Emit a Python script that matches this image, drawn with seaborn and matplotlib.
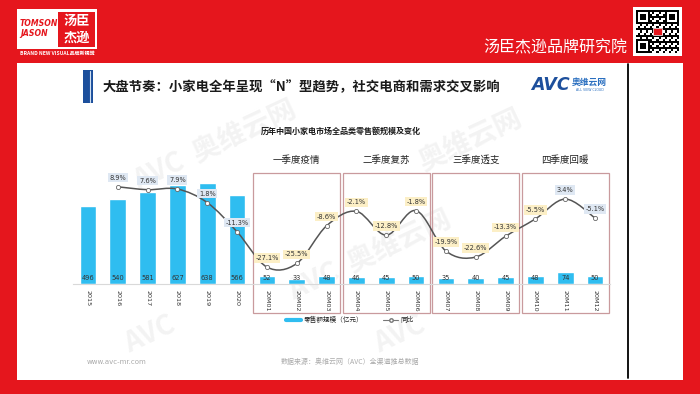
import matplotlib.pyplot as plt
import matplotlib.transforms as mtransforms
import numpy as np
import pandas as pd
import seaborn as sns
from matplotlib.lines import Line2D
from matplotlib.patches import PathPatch, Rectangle
from matplotlib.path import Path

# 数据：年度 + 2020 年各月
periods = ["2015", "2016", "2017", "2018", "2019", "2020",
           "20M01", "20M02", "20M03", "20M04", "20M05", "20M06",
           "20M07", "20M08", "20M09", "20M10", "20M11", "20M12"]
sales = [496, 540, 581, 627, 638, 566, 52, 33, 48, 46, 45, 50, 35, 40, 45, 48, 74, 50]
yoy = [np.nan, 8.9, 7.6, 7.9, 1.8, -11.3, -27.1, -25.5, -8.6, -2.1, -12.8, -1.8,
       -19.9, -22.6, -13.3, -5.5, 3.4, -5.1]
quarters = ["一季度疫情", "二季度复苏", "三季度透支", "四季度回暖"]

W, H = 700, 394
RED = "#e5161d"
BAR = "#2fbdf0"
CJK = ["Noto Sans CJK SC", "DejaVu Sans"]


def fx(x):
    return x / W


def fy(y):
    return 1 - y / H


def box(x0, y0, x1, y1, color, z=0.2):
    # 像素坐标 (左上, 右下) 画实心矩形
    fig.patches.append(Rectangle((fx(x0), fy(y1)), fx(x1 - x0), (y1 - y0) / H,
                                 transform=fig.transFigure, facecolor=color,
                                 edgecolor="none", zorder=z))


sns.set_style("white")
plt.rcParams["font.family"] = CJK

fig = plt.figure(figsize=(7, 3.94), dpi=100)
fig.patch.set_facecolor(RED)

# 白色内容区
box(17, 63, 683, 380, "white", z=0.1)
fig.add_artist(Line2D([fx(628), fx(628)], [fy(64), fy(378)], color="black", lw=1.3, zorder=5))

# 左上角标志
box(17, 9, 97, 49, "white")
box(58, 12, 95, 47, RED, z=0.3)
fig.text(fx(20), fy(24), "TOMSON", color=RED, fontsize=5.6, fontweight="bold", style="italic",
         va="center", family="DejaVu Sans")
fig.text(fx(20), fy(33), "JASON", color=RED, fontsize=5.6, fontweight="bold", style="italic",
         va="center", family="DejaVu Sans")
fig.text(fx(76.5), fy(21), "汤臣", color="white", fontsize=9.5, fontweight="bold", ha="center", va="center")
fig.text(fx(76.5), fy(38), "杰逊", color="white", fontsize=9.5, fontweight="bold", ha="center", va="center")
fig.text(fx(57), fy(53.5), "BRAND NEW VISUAL品牌新视觉", color="white", fontsize=3.6,
         fontweight="bold", style="italic", ha="center", va="center")

# 右上角
fig.text(fx(627), fy(48), "汤臣杰逊品牌研究院", color="white", fontsize=11.5, ha="right", va="center")
box(633, 7, 682, 56, "white")
n = 21
qr = np.zeros((n, n))
ii, jj = np.meshgrid(np.arange(n), np.arange(n), indexing="ij")
qr[((ii * ii + 3 * jj + ii * jj) % 3) == 0] = 1
for r0, c0 in [(0, 0), (0, n - 7), (n - 7, 0)]:
    qr[r0:r0 + 7, c0:c0 + 7] = 1
    qr[r0 + 1:r0 + 6, c0 + 1:c0 + 6] = 0
    qr[r0 + 2:r0 + 5, c0 + 2:c0 + 5] = 1
qax = fig.add_axes([fx(636), fy(53), fx(43), 43 / H])
qax.set_zorder(3)
qax.imshow(qr, cmap="gray_r", interpolation="nearest")
qax.add_patch(Rectangle((8, 8.5), 4, 3, facecolor=RED, edgecolor="white", lw=0.5))
qax.axis("off")

# 标题
box(83, 70, 93, 103, "#1c4f9c")
fig.add_artist(Line2D([fx(89.5), fx(89.5)], [fy(71), fy(102)], color="#cfe0f2", lw=0.8))
fig.text(fx(103), fy(87), "大盘节奏：小家电全年呈现“N”型趋势，社交电商和需求交叉影响",
         fontsize=9.6, fontweight="bold", color="#1a1a1a", va="center")
fig.text(fx(531), fy(85), "AVC", fontsize=12.5, fontweight="bold", style="italic", color="#1d4f9c",
         va="center", family="DejaVu Sans")
fig.text(fx(572), fy(82), "奥维云网", fontsize=6.3, fontweight="bold", color="#2a6fc0", va="center")
fig.text(fx(576), fy(90), "ALL VIEW CLOUD", fontsize=2.3, color="#2a6fc0", va="center",
         family="DejaVu Sans")

# 水印
for (wx, wy, s) in [(215, 145, "AVC  奥维云网"), (370, 255, "AVC  奥维云网"),
                    (150, 335, "AVC"), (400, 335, "AVC"), (470, 140, "奥维云网")]:
    fig.text(fx(wx), fy(wy), s, fontsize=20, fontweight="bold", color="#d6d6d6", alpha=0.28,
             rotation=25, ha="center", va="center", zorder=0.5)

fig.text(fx(341), fy(131), "历年中国小家电市场全品类零售额规模及变化", fontsize=5.8,
         fontweight="bold", color="#1a1a1a", ha="center", va="center")

# 主图
ax = fig.add_axes([fx(73), fy(284), fx(610 - 73), (284 - 150) / H])
ax.set_zorder(2)
ax.patch.set_alpha(0)
df = pd.DataFrame({"period": periods, "sales": sales, "yoy": yoy})
df["idx"] = np.arange(len(df))
sns.barplot(data=df, x="period", y="sales", color=BAR, width=0.56, saturation=1, ax=ax, zorder=2)
ax.set_xlim(-0.5, len(periods) - 0.5)
ax.set_ylim(0, 848)
ax.set_xlabel("")
ax.set_ylabel("")
ax.set_yticks([])
ax.set_xticks(range(len(periods)))
ax.set_xticklabels(periods, rotation=-90, fontsize=4.6, color="#333333", family="DejaVu Sans")
ax.tick_params(axis="x", length=0, pad=4)
for sp in ["top", "left", "right"]:
    ax.spines[sp].set_visible(False)
ax.spines["bottom"].set_color("#d9d9d9")
ax.spines["bottom"].set_linewidth(0.8)
for i, v in enumerate(sales):
    ax.text(i, 38, str(v), fontsize=4.8, color="#333333", ha="center", va="center", zorder=3,
            family="DejaVu Sans")

ax2 = ax.twinx()
ax2.set_zorder(3)
ax2.patch.set_alpha(0)
ax2.set_ylim(-34.7, 25.4)
ax2.axis("off")
line = df.dropna(subset=["yoy"])
xs = line["idx"].to_numpy(float)
ys = line["yoy"].to_numpy(float)
# 平滑曲线：Catmull-Rom 转三次贝塞尔
verts = [(xs[0], ys[0])]
codes = [Path.MOVETO]
for k in range(len(xs) - 1):
    p0 = np.array([xs[max(k - 1, 0)], ys[max(k - 1, 0)]])
    p1 = np.array([xs[k], ys[k]])
    p2 = np.array([xs[k + 1], ys[k + 1]])
    p3 = np.array([xs[min(k + 2, len(xs) - 1)], ys[min(k + 2, len(xs) - 1)]])
    c1 = p1 + (p2 - p0) / 6
    c2 = p2 - (p3 - p1) / 6
    verts += [tuple(c1), tuple(c2), tuple(p2)]
    codes += [Path.CURVE4] * 3
ax2.add_patch(PathPatch(Path(verts, codes), facecolor="none", edgecolor="#555555", lw=1.1, zorder=3))
sns.scatterplot(data=line, x="idx", y="yoy", ax=ax2, s=9, color="white", edgecolor="#666666",
                linewidth=0.6, zorder=4, legend=False)
for i, v in zip(line["idx"], line["yoy"]):
    fc = "#fcefc6" if 6 <= i <= 15 else "#dfe8f3"
    ax2.annotate(f"{v:.1f}%", (i, v), xytext=(0, 6.5), textcoords="offset points", ha="center",
                 va="center", fontsize=4.8, color="#333333", family="DejaVu Sans", zorder=5,
                 bbox=dict(boxstyle="square,pad=0.25", facecolor=fc, edgecolor="none"))

# 季度框
bt = mtransforms.blended_transform_factory(ax.transData, fig.transFigure)
for q, name in enumerate(quarters):
    start = 6 + 3 * q
    ax.add_patch(Rectangle((start - 0.45, fy(313)), 2.9, (313 - 173) / H, transform=bt, fill=False,
                           edgecolor="#c99a9d", lw=0.9, clip_on=False, zorder=1))
    ax.text(start + 1, fy(160), name, transform=bt, fontsize=6.8, color="#222222",
            ha="center", va="center")

# 图例
handles = [Line2D([], [], color=BAR, lw=3),
           Line2D([], [], color="#777777", lw=0.8, marker="o", markersize=2.5,
                  markerfacecolor="white", markeredgecolor="#777777")]
fig.legend(handles, ["零售额规模（亿元）", "同比"], loc="center", bbox_to_anchor=(fx(350), fy(320)),
           ncol=2, frameon=False, fontsize=4.8, handlelength=2.2, columnspacing=3, handletextpad=0.4)

# 页脚
fig.text(fx(87), fy(362), "www.avc-mr.com", fontsize=5, color="#aaaaaa", va="center", family="DejaVu Sans")
fig.text(fx(350), fy(362), "数据来源：奥维云网（AVC）全渠道推总数据", fontsize=5, color="#aaaaaa",
         ha="center", va="center")

fig.savefig("out.png", dpi=100, facecolor=RED)
